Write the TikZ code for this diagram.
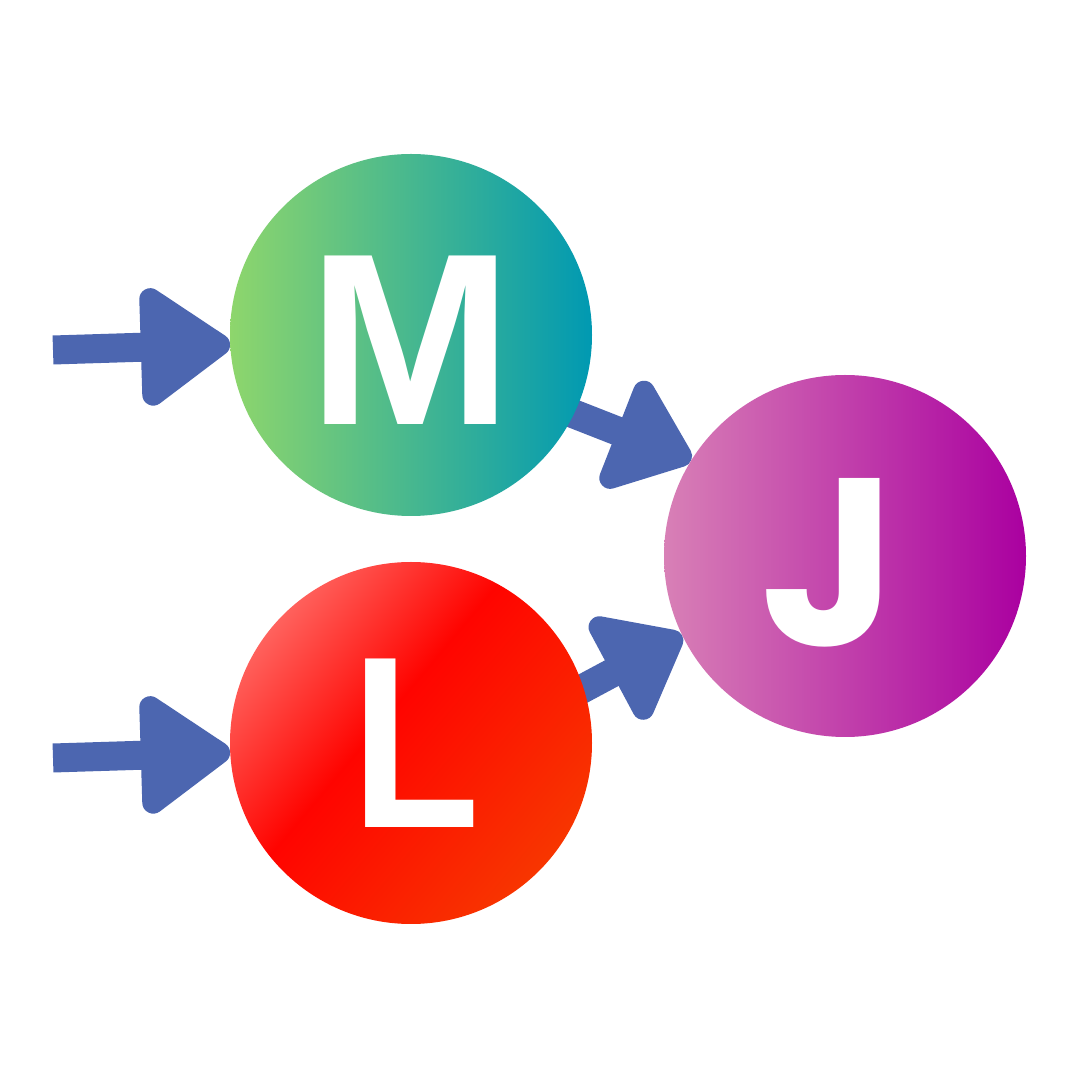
\documentclass[tikz,border=0pt]{standalone}
\usepackage{fontspec}
\setmainfont{Liberation Sans}
\newfontfamily\hookfont{Poppins}
\usetikzlibrary{arrows.meta, calc}
\definecolor{flowblue}{RGB}{76,102,176}
\definecolor{mgreen}{RGB}{142,214,108}
\definecolor{mteal}{RGB}{0,153,178}
\definecolor{jpink}{RGB}{216,128,182}
\definecolor{jmagenta}{RGB}{170,0,160}
\definecolor{lsalmon}{RGB}{255,135,130}
\definecolor{lred}{RGB}{255,4,0}
\definecolor{lorange}{RGB}{245,72,0}
\pgfdeclarehorizontalshading{lglow}{100bp}{color(0bp)=(lsalmon); color(17bp)=(lsalmon);
  color(45bp)=(lred); color(86bp)=(lorange); color(100bp)=(lorange)}
\tikzset{
  orb/.style={circle, minimum size=362, inner sep=0pt},
  letter/.style={text=white, inner sep=0pt, font=\bfseries\fontsize{245}{245}\selectfont},
  flow/.style={line width=29, draw=flowblue,
               -{Triangle[length=#1, width=132, round, line width=22pt 0 0]}},
  flow/.default=98,
}

\begin{document}
\begin{tikzpicture}[x=1pt, y=1pt]

  % ---------- canvas ----------
  \fill[white] (0,0) rectangle (1080,1080);
  \useasboundingbox (0,0) rectangle (1080,1080);

  % ---------- places of the circles (filled later, over the arrows) ----------
  \path (411,745) node[orb] (M) {};
  \path (411,337) node[orb] (L) {};
  \path (845,524) node[orb] (J) {};

  % free ends of the arrows
  \coordinate (inM) at (53,730);
  \coordinate (inL) at (53,322);
  \coordinate (fromM) at (500,695);
  \coordinate (fromL) at (500,347);

  % ---------- arrows, under the circles ----------
  \draw[flow] (inM) -- (M.183);
  \draw[flow] (inL) -- (L.183);
  \draw[flow=87] (fromM) -- (J.148);
  \draw[flow=87] (fromL) -- (J.206);

  % ---------- circles ----------
  \node[orb, left color=mgreen, right color=mteal] at (M) {};
  \node[orb, shade, shading=lglow, shading angle=-40] at (L) {};
  \node[orb, left color=jpink, right color=jmagenta] at (J) {};

  % ---------- letters ----------
  \node[letter] (Mtag) at ([yshift=-5]M.center) {M};
  \node[letter] (Ltag) at ([xshift=5]L.center) {\scalebox{0.86}[1]{L}};
  \node[letter, font=\hookfont\bfseries\fontsize{238}{238}\selectfont] (Jtag)
    at ([xshift=-16, yshift=-7]J.center) {J};

\end{tikzpicture}
\end{document}
